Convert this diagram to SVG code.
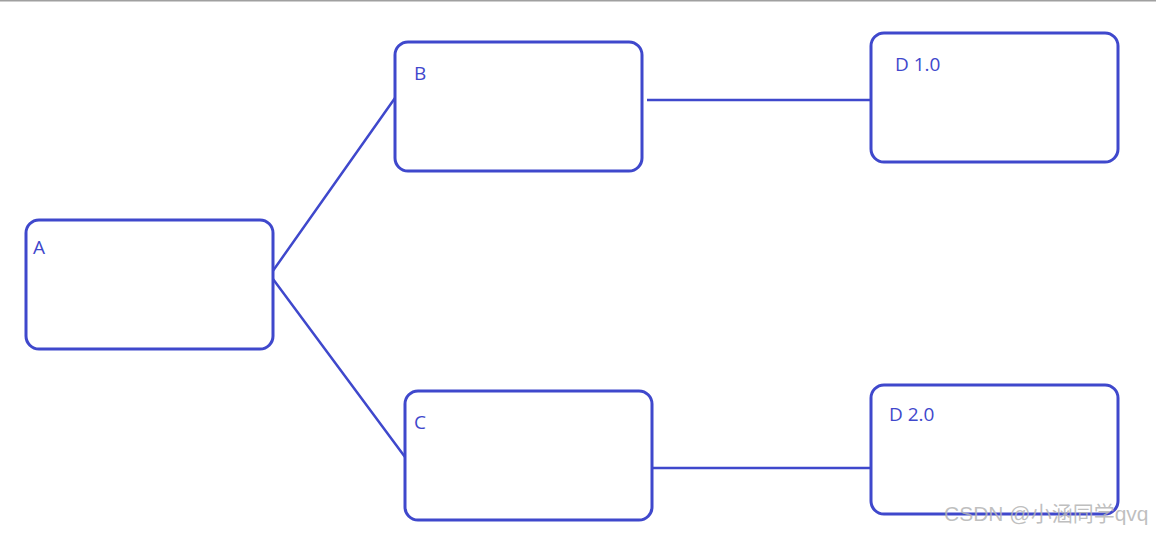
<svg xmlns="http://www.w3.org/2000/svg" width="1156" height="533" viewBox="0 0 1156 533">
<style>
.box{fill:#fff;stroke:#3f48cc;stroke-width:3}
.lbl{font-family:"Open Sans","Noto Sans","Liberation Sans",sans-serif;font-size:19px;fill:#3f48cc}
.conn{stroke:#3f48cc;stroke-width:2.5;fill:none}
.wm{font-family:"Liberation Sans","Noto Sans CJK SC",sans-serif;font-size:21px;fill:#b4b4b4;fill-opacity:0.85}
</style>
<rect x="0" y="0" width="1156" height="533" fill="#fff"/>
<line x1="0" y1="0.5" x2="1156" y2="0.5" stroke="#a0a0a0" stroke-width="2"/>
<g id="connectors">
<path class="conn" d="M395 98 L270 275 L405 457"/>
<path class="conn" d="M268 278 L273 272"/>
<path class="conn" d="M647 100 L873 100"/>
<path class="conn" d="M652 468 L873 468"/>
</g>
<g id="A"><rect class="box" x="26" y="220" width="247" height="129" rx="13"/><text class="lbl" x="33" y="254">A</text></g>
<g id="B"><rect class="box" x="395" y="42" width="247" height="129" rx="13"/><text class="lbl" x="414" y="80">B</text></g>
<g id="C"><rect class="box" x="405" y="391" width="247" height="129" rx="13"/><text class="lbl" x="414" y="429">C</text></g>
<g id="D1"><rect class="box" x="871" y="33" width="247" height="129" rx="13"/><text class="lbl" x="895" y="71">D 1.0</text></g>
<g id="D2"><rect class="box" x="871" y="385" width="247" height="129" rx="13"/><text class="lbl" x="889" y="421">D 2.0</text></g>
<text class="wm" x="944" y="521">CSDN @小涵同学qvq</text>
</svg>
